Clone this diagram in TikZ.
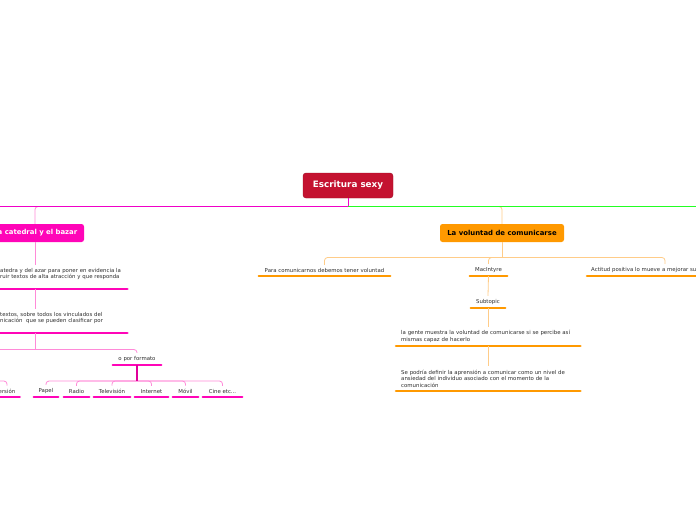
\documentclass[tikz,border=0pt]{standalone}
\usepackage{fontspec}
\setmainfont{DejaVu Sans}
\usetikzlibrary{positioning}

\definecolor{rootred}{HTML}{C41230}
\definecolor{catpink}{HTML}{FF05B8}
\definecolor{barpink}{HTML}{F000C8}
\definecolor{linkpink}{HTML}{FF8AD8}
\definecolor{stempink}{HTML}{E0009A}
\definecolor{barlime}{HTML}{22FF22}
\definecolor{volorange}{HTML}{FF9900}
\definecolor{linkorange}{HTML}{FFCC88}
\definecolor{leafgray}{HTML}{2E2E2E}

\tikzset{
  rootbox/.style={fill=rootred, draw=rootred!80!black, line width=0.4pt, rounded corners=3pt,
    text=white, font=\fontsize{8.8}{10}\bfseries\selectfont, minimum width=90pt, minimum height=25pt},
  mainbox/.style={rounded corners=2.5pt, font=\fontsize{6.9}{8}\bfseries\selectfont,
    minimum height=18pt, inner sep=0pt},
  leaf/.style={font=\fontsize{5.4}{6.6}\selectfont, text=leafgray, inner xsep=0pt,
    inner ysep=3.3pt, anchor=south, align=center},
  block/.style={leaf, align=left, inner xsep=5pt},
  pinkul/.style={catpink, line width=2.6pt, line cap=round},
  orangeul/.style={volorange, line width=2.6pt, line cap=round},
  pinklink/.style={linkpink, line width=0.8pt, rounded corners=3pt},
  orangelink/.style={linkorange, line width=0.8pt, rounded corners=3pt},
}

\begin{document}
\begin{tikzpicture}[x=1pt, y=-1pt]
  \useasboundingbox (0,0) rectangle (696,520);
  \clip (0,0) rectangle (696,520);

  % central topic
  \node[rootbox] (root) at (348,185.5) {Escritura sexy};
  \coordinate (hub) at (348,206.5);
  \coordinate (westend) at (-5,206.5);
  \coordinate (eastend) at (701,206.5);

  % main topics
  \node[mainbox, fill=catpink, text=white, minimum width=98pt] (cat) at (35,233) {\hspace{5pt}a catedral y el bazar};
  \node[mainbox, fill=volorange, text=black, minimum width=124pt] (vol) at (502,233) {La voluntad de comunicarse};

  \draw[pinklink] (hub) -| (cat.north);
  \draw[orangelink] (hub) -| (vol.north);
  \draw[barpink, line width=1pt] (root.south) |- (westend);
  \draw[barlime, line width=1pt] (hub) -- (eastend);

  % left branch
  \node[block, anchor=south west, inner xsep=0pt, text width=127pt] (cat1) at (0,289)
    {atedra y del azar para poner en evidencia la\\ruir textos de alta atracción y que responda\\\mbox{}};
  \node[block, anchor=south west, inner xsep=0pt, text width=127pt] (cat2) at (0,333)
    {textos, sobre todos los vinculados del\\nicación\ \ que se pueden clasificar por\\\mbox{}};
  \draw[pinkul] ([xshift=-10pt]cat1.south west) -- (cat1.south east);
  \draw[pinkul] ([xshift=-10pt]cat2.south west) -- (cat2.south east);
  \draw[pinklink] (cat.south) -- (cat.south |- cat1.north);
  \draw[pinklink] (cat.south |- cat1.south) -- (cat.south |- cat2.north);

  \coordinate (lbar) at (35,349.5);
  \coordinate (lwest) at (-5,349.5);
  \node[leaf, minimum width=48pt] (fmt) at (137,365) {o por formato};
  \draw[pinkul] (fmt.south west) -- (fmt.south east);
  \draw[pinklink] (cat.south |- cat2.south) -- (lbar);
  \draw[pinklink] (fmt.north) |- (lbar) -- (lwest);

  % formats
  \coordinate (fbar) at (137,381);
  \coordinate (fwest) at (-10,381);
  \node[leaf, minimum width=25pt] (ers) at (7,397) {ersión};
  \node[leaf, minimum width=24pt] (papel) at (46,397) {Papel};
  \node[leaf, minimum width=25pt] (radio) at (76.5,397) {Radio};
  \node[leaf, minimum width=36pt] (tele) at (112,397) {Televisión};
  \node[leaf, minimum width=33pt] (inet) at (151.5,397) {Internet};
  \node[leaf, minimum width=25pt] (movil) at (185.5,397) {Móvil};
  \node[leaf, minimum width=39pt] (cine) at (222.5,397) {Cine etc...};
  \foreach \n in {ers,papel,radio,tele,inet,movil,cine}
    \draw[pinkul] (\n.south west) -- (\n.south east);
  \foreach \n in {papel,radio,tele,inet,movil,cine}
    \draw[pinklink] (\n.north) |- (fbar);
  \draw[pinklink] (ers.north) |- (fwest);
  \draw[stempink, line width=1.2pt] (fmt.south) -- (fbar);

  % right branch
  \coordinate (obar) at (502,257.5);
  \node[leaf, minimum width=131pt] (para) at (324.5,276) {Para comunicarnos debemos tener voluntad};
  \node[leaf, minimum width=37pt] (mac) at (488.5,276) {MacIntyre};
  \node[leaf, anchor=south west, text width=120pt, align=left, inner xsep=4pt] (act) at (587,276)
    {Actitud positiva lo mueve a mejorar su};
  \foreach \n in {para,mac,act}
    \draw[orangeul] (\n.south west) -- (\n.south east);
  \draw[orangelink] (vol.south) -- (obar);
  \draw[orangelink] (para.north) |- (obar) -| (act.north -| 665,0);
  \draw[orangelink] (mac.north) |- (obar);

  \node[leaf, minimum width=34pt] (sub) at (488,308) {Subtopic};
  \node[block, anchor=south west, text width=174pt] (gente) at (396,346)
    {la gente muestra la voluntad de comunicarse si se percibe así\\mismas capaz de hacerlo};
  \node[block, anchor=south west, text width=174pt] (aprens) at (396,391)
    {Se podría definir la aprensión a comunicar como un nivel de\\ansiedad del individuo asociado con el momento de la\\comunicación};
  \foreach \n in {sub,gente,aprens}
    \draw[orangeul] (\n.south west) -- (\n.south east);
  \draw[orangelink] (mac.south) -- (sub.north);
  \draw[orangelink] (sub.south) -- (sub.south |- gente.north);
  \draw[orangelink] (sub.south |- gente.south) -- (sub.south |- aprens.north);
\end{tikzpicture}
\end{document}
